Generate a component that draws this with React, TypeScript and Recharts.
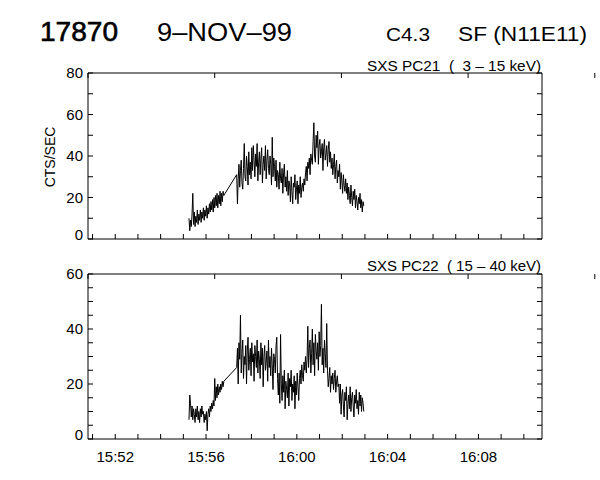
import React from 'react';
import { LineChart, Line, XAxis, YAxis } from 'recharts';

// counts/sec, one sample every 2 s
// first stretch (from 15:55:15), then a data gap, then the main stretch (from 15:57:21)
const PC21_RISE = [
  10, 4, 9, 6, 12, 22, 7, 13, 6, 11,
  8, 14, 7, 12, 9, 14, 8, 13, 10, 15,
  9, 14, 11, 16, 10, 15, 12, 17, 13, 18,
  14, 19, 13, 20, 15, 21, 16, 22, 15, 21,
  17, 23, 16, 22, 18, 23, 21,
];
const PC21_MAIN = [
  31, 17, 29, 36, 25, 33, 38, 27, 24, 34, 46, 30, 28, 40, 35, 26, 42, 31, 37, 29,
  44, 33, 45, 38, 30, 41, 35, 46, 28, 37, 42, 31, 39, 44, 27, 36, 40, 33, 45, 29,
  38, 43, 34, 31, 40, 36, 26, 49, 30, 39,
  35, 28, 38, 25, 33, 31, 24, 37, 29, 27, 34, 22, 32, 36, 25, 30, 23, 33,
  21, 28, 26, 18, 30, 23, 17, 27, 25, 31, 19, 24, 28, 17, 26, 22, 30, 20, 25, 27, 23,
  29, 26, 32, 35, 28, 37, 34, 39, 31, 41, 38, 36,
  47, 56, 40, 37, 50, 44, 52, 36, 45, 48, 39, 42, 46, 33, 44, 48, 38, 41, 45, 35, 43, 47, 37,
  42, 34, 39, 31, 36, 41, 29, 35, 38, 27, 33, 30, 36, 24, 32, 28, 22, 31, 26, 23, 29,
  22, 27, 19, 25, 21, 17, 26, 20, 16, 23, 19, 24, 15, 21, 18, 14, 20, 17, 22, 15, 19, 13, 18, 16,
];
const PC22_RISE = [
  7, 16, 13, 8, 12, 7, 11, 9, 6, 11,
  8, 12, 7, 10, 6, 11, 8, 12, 9, 10,
  6, 9, 7, 10, 3, 9, 11, 8, 12, 10,
  13, 11, 14, 12, 22, 14, 19, 15, 20, 16,
  19, 17, 20, 18, 21, 19, 21,
];
const PC22_MAIN = [
  26, 33, 20, 35, 29, 45, 24, 31, 36, 22, 30, 27, 34, 20, 32, 37, 25, 29, 33, 23,
  35, 28, 31, 21, 34, 30, 26, 36, 24, 32, 29, 22, 35, 27, 33, 19, 30, 34, 25, 28,
  32, 21, 36, 26, 30, 23, 33, 27, 18, 31, 29, 24, 34, 37, 22,
  16, 24, 13, 38, 20, 14, 23, 17, 25, 11, 21, 18, 15, 24, 12, 22, 19, 25, 14, 20,
  17, 23, 11, 21, 16, 24, 19, 14, 22, 25,
  20, 27, 23, 21, 28, 25, 30, 24, 29,
  41, 26, 33, 36, 24, 31, 40, 27, 35, 23, 38, 32, 29, 35, 25, 39, 30, 34, 49, 27, 33, 24, 36, 31, 26, 42,
  25, 19, 22, 26, 17, 23, 20, 24, 18, 22, 25, 17, 21, 23, 19, 20,
  13, 20, 9, 16, 18, 12, 8, 17, 14, 19, 7, 13, 16, 11, 19, 10, 15, 17, 12, 8,
  16, 13, 18, 11, 14, 9, 17, 12, 16, 10, 15, 13, 10,
];

// seconds relative to 16:00:00
const RISE_START_S = -285;
const MAIN_START_S = -159;
const CADENCE_S = 2;

const TIME_DOMAIN = [-552, 648];
const MINUTE_TICKS = [-540, -480, -420, -360, -300, -240, -180, -120, -60, 0, 60, 120, 180, 240, 300, 360, 420, 480, 540, 600];
const TIME_LABELS: Record<number, string> = { '-480': '15:52', '-240': '15:56', 0: '16:00', 240: '16:04', 480: '16:08' };

const PC21_TICKS = [0, 10, 20, 30, 40, 50, 60, 70, 80];
const PC21_LABELS = [0, 20, 40, 60, 80];
const PC22_TICKS = [0, 5, 10, 15, 20, 25, 30, 35, 40, 45, 50, 55, 60];
const PC22_LABELS = [0, 20, 40, 60];

const FONT = '"Liberation Sans", Arial, sans-serif';
const TICK_LEN = 5;

function toSeries(rise: number[], main: number[]) {
  return [
    ...rise.map((v, i) => ({ t: RISE_START_S + i * CADENCE_S, v })),
    ...main.map((v, i) => ({ t: MAIN_START_S + i * CADENCE_S, v })),
  ];
}

function Panel({ data, yMax, yTicks, yLabels, timeLabels, height, top, bottom }: any) {
  return (
    <LineChart width={600} height={height} data={data} margin={{ top, right: 57, bottom, left: 48 }}>
      <XAxis
        xAxisId="b"
        dataKey="t"
        type="number"
        domain={TIME_DOMAIN}
        ticks={MINUTE_TICKS}
        interval={0}
        allowDataOverflow
        height={1}
        tickSize={0}
        tickMargin={0}
        tickLine={false}
        axisLine={{ stroke: '#000' }}
        tick={(p: any) => (
          <g key={p.index}>
            <line x1={p.x} y1={p.y} x2={p.x} y2={p.y - TICK_LEN} stroke="#000" />
            {timeLabels && TIME_LABELS[p.payload.value] && (
              <text x={p.x} y={p.y + 23} textAnchor="middle" fontFamily={FONT} fontSize={15} fill="#000">
                {TIME_LABELS[p.payload.value]}
              </text>
            )}
          </g>
        )}
      />
      <XAxis
        xAxisId="t"
        orientation="top"
        type="number"
        domain={TIME_DOMAIN}
        ticks={MINUTE_TICKS}
        interval={0}
        allowDataOverflow
        height={1}
        tickSize={0}
        tickMargin={0}
        tickLine={false}
        axisLine={{ stroke: '#000' }}
        tick={(p: any) => <line key={p.index} x1={p.x} y1={p.y} x2={p.x} y2={p.y + TICK_LEN} stroke="#000" />}
      />
      <YAxis
        yAxisId="l"
        type="number"
        domain={[0, yMax]}
        ticks={yTicks}
        interval={0}
        allowDataOverflow
        width={40}
        tickSize={0}
        tickMargin={0}
        tickLine={false}
        axisLine={{ stroke: '#000' }}
        tick={(p: any) => (
          <g key={p.index}>
            <line x1={p.x} y1={p.y} x2={p.x + TICK_LEN} y2={p.y} stroke="#000" />
            {yLabels.includes(p.payload.value) && (
              <text x={p.x - 5} y={p.y + (p.payload.value === 0 ? 1 : 5)} textAnchor="end" fontFamily={FONT} fontSize={15} fill="#000">
                {p.payload.value}
              </text>
            )}
          </g>
        )}
      />
      <YAxis
        yAxisId="r"
        orientation="right"
        type="number"
        domain={[0, yMax]}
        ticks={yTicks}
        interval={0}
        allowDataOverflow
        width={1}
        tickSize={0}
        tickMargin={0}
        tickLine={false}
        axisLine={{ stroke: '#000' }}
        tick={(p: any) => <line key={p.index} x1={p.x} y1={p.y} x2={p.x - TICK_LEN} y2={p.y} stroke="#000" />}
      />
      <Line
        xAxisId="b"
        yAxisId="l"
        dataKey="v"
        type="linear"
        stroke="#000"
        strokeWidth={1}
        dot={false}
        isAnimationActive={false}
      />
    </LineChart>
  );
}

export default function App() {
  const pc21 = toSeries(PC21_RISE, PC21_MAIN);
  const pc22 = toSeries(PC22_RISE, PC22_MAIN);
  return (
    <div style={{ position: 'absolute', left: 0, top: 0, width: 600, height: 480, background: '#fff' }}>
      <div style={{ position: 'absolute', left: 0, top: 0 }}>
        <Panel data={pc21} yMax={80} yTicks={PC21_TICKS} yLabels={PC21_LABELS} timeLabels={false} height={250} top={72} bottom={10} />
      </div>
      <div style={{ position: 'absolute', left: 0, top: 250 }}>
        <Panel data={pc22} yMax={60} yTicks={PC22_TICKS} yLabels={PC22_LABELS} timeLabels height={230} top={23} bottom={40} />
      </div>
      <svg width={600} height={480} style={{ position: 'absolute', left: 0, top: 0, pointerEvents: 'none' }}>
        <g fontFamily={FONT} fill="#000">
          <text x={40} y={41} fontSize={27} textLength={78} lengthAdjust="spacingAndGlyphs" stroke="#000" strokeWidth={0.6}>17870</text>
          <text x={157} y={41} fontSize={26} textLength={135} lengthAdjust="spacingAndGlyphs">9–NOV–99</text>
          <text x={386} y={41} fontSize={19} textLength={44} lengthAdjust="spacingAndGlyphs">C4.3</text>
          <text x={458} y={41} fontSize={20} textLength={129} lengthAdjust="spacingAndGlyphs">SF (N11E11)</text>
          <text x={541} y={71} fontSize={14} textAnchor="end" textLength={174} lengthAdjust="spacingAndGlyphs" xmlSpace="preserve">SXS PC21  (  3 – 15 keV)</text>
          <text x={541} y={271} fontSize={14} textAnchor="end" textLength={174} lengthAdjust="spacingAndGlyphs" xmlSpace="preserve">SXS PC22  ( 15 – 40 keV)</text>
          <text x={0} y={0} fontSize={14} textAnchor="middle" transform="translate(55,157) rotate(-90)">CTS/SEC</text>
        </g>
      </svg>
    </div>
  );
}
